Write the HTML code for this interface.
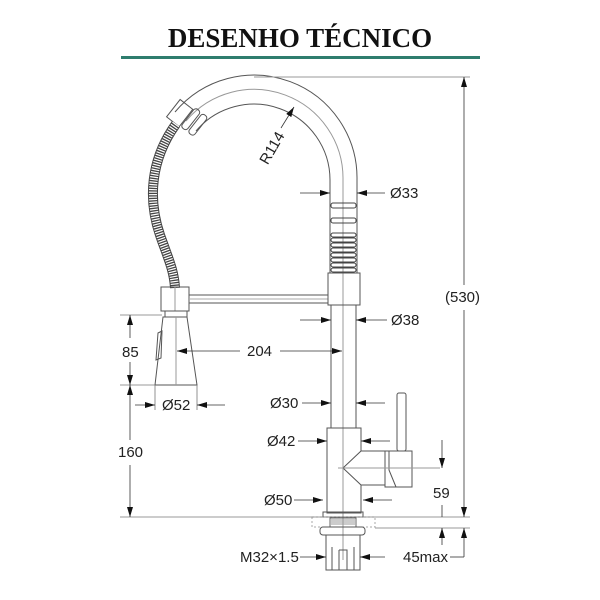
<!DOCTYPE html>
<html><head><meta charset="utf-8"><style>
body{margin:0;background:#fff;width:600px;height:600px;overflow:hidden}
svg{display:block}
text{font-family:"Liberation Sans",Arial,sans-serif;font-size:15px;fill:#222}
</style></head><body>
<svg width="600" height="600" viewBox="0 0 600 600" xmlns="http://www.w3.org/2000/svg">
<defs>
<marker id="a" viewBox="0 0 10 6" refX="10" refY="3" markerWidth="10" markerHeight="6" orient="auto-start-reverse" markerUnits="userSpaceOnUse"><path d="M0,0 L10,3 L0,6z" fill="#111"/></marker>
</defs>
<text x="300" y="47" text-anchor="middle" style="font-family:'Liberation Serif',serif;font-weight:bold;font-size:27px;fill:#111">DESENHO TÉCNICO</text>
<rect x="121" y="56" width="359" height="3" fill="#2e7d6e"/>

<g fill="none" stroke="#555" stroke-width="1">
<path d="M357,180 A103,103 0 0 0 175,112"/>
<path d="M330,180 A76,76 0 0 0 196,131"/>
<path d="M343,180 A89,89 0 0 0 186,121" stroke="#999"/>
<line x1="254" y1="77" x2="470" y2="77" stroke="#999"/>
<line x1="330" y1="180" x2="330" y2="273"/>
<line x1="357" y1="180" x2="357" y2="273"/>
<line x1="343" y1="180" x2="343" y2="560" stroke="#999"/>
<g stroke="#444">
<rect x="331" y="203" width="25" height="5" rx="2"/>
<rect x="331" y="218" width="25" height="5" rx="2"/>
<rect x="331" y="233" width="25" height="4" rx="2"/><rect x="331" y="238" width="25" height="4" rx="2"/>
<rect x="331" y="243" width="25" height="4" rx="2"/><rect x="331" y="248" width="25" height="4" rx="2"/>
<rect x="331" y="253" width="25" height="4" rx="2"/><rect x="331" y="258" width="25" height="4" rx="2"/>
<rect x="331" y="263" width="25" height="4" rx="2"/><rect x="331" y="268" width="25" height="4" rx="2"/>
</g>
<g transform="translate(185,116) rotate(38)">
<rect x="-14" y="-10" width="16" height="22"/>
<rect x="3" y="-13" width="7" height="24" rx="3"/>
<rect x="12" y="-13" width="7" height="24" rx="3"/>
</g>
<path d="M176,124 C150,160 148,200 160,235 C168,258 174,270 175,288" stroke="#444" stroke-width="10"/>
<path d="M176,124 C150,160 148,200 160,235 C168,258 174,270 175,288" stroke="#fff" stroke-width="8" stroke-dasharray="1.2 1.3"/>
<rect x="161" y="287" width="28" height="24"/>
<line x1="175" y1="287" x2="175" y2="311" stroke="#999"/>
<line x1="189" y1="295" x2="328" y2="295"/>
<line x1="189" y1="303" x2="328" y2="303"/>
<line x1="189" y1="299" x2="328" y2="299" stroke="#aaa"/>
<rect x="328" y="273" width="32" height="32"/>
<line x1="331" y1="305" x2="331" y2="428"/>
<line x1="356" y1="305" x2="356" y2="428"/>
<rect x="165" y="311" width="22" height="6"/>
<path d="M163,317 L187,317 L197,385 L155,385 Z"/>
<path d="M158,333 L162,331 L161,358 L156,360 Z"/>
<line x1="176" y1="317" x2="176" y2="385" stroke="#999"/>
<path d="M327,428 L361,428 L361,451 L343,468 L361,485 L361,513 L327,513 Z"/>
<line x1="361" y1="451" x2="385" y2="451"/><line x1="361" y1="485" x2="385" y2="485"/>
<rect x="385" y="451" width="27" height="36"/>
<path d="M389,451 L389,470 L396,487"/>
<rect x="397" y="393" width="9" height="58" rx="2"/>
<line x1="338" y1="468" x2="440" y2="468" stroke="#999"/>
<rect x="323" y="512" width="40" height="5"/>
<rect x="312" y="517" width="63" height="10" stroke="#aaa" stroke-dasharray="2 2"/>
<rect x="330" y="518" width="26" height="9" stroke="#666"/>
<path d="M331,520h24M331,522h24M331,524h24" stroke="#999"/>
<rect x="320" y="527" width="45" height="8" rx="3"/>
<rect x="326" y="535" width="34" height="35"/>
<path d="M332,547 v23 M354,547 v23 M339,550 h8 v20 M339,550 v20"/>
</g>

<g stroke="#777" stroke-width="0.8" fill="none">
<line x1="120" y1="517" x2="470" y2="517"/>
<line x1="375" y1="528" x2="470" y2="528"/>
<line x1="120" y1="315" x2="162" y2="315"/>
<line x1="120" y1="385" x2="155" y2="385"/>
<line x1="155" y1="385" x2="155" y2="410"/><line x1="197" y1="385" x2="197" y2="410"/>
</g>
<g stroke="#333" stroke-width="0.8" fill="none">
<line x1="130" y1="338" x2="130" y2="315" marker-end="url(#a)"/>
<line x1="130" y1="362" x2="130" y2="385" marker-end="url(#a)"/>
<line x1="130" y1="385" x2="130" y2="440" marker-start="url(#a)"/>
<line x1="130" y1="465" x2="130" y2="517" marker-end="url(#a)"/>
<line x1="240" y1="351" x2="177" y2="351" marker-end="url(#a)"/>
<line x1="280" y1="351" x2="342" y2="351" marker-end="url(#a)"/>
<line x1="135" y1="405" x2="155" y2="405" marker-end="url(#a)"/>
<line x1="225" y1="405" x2="197" y2="405" marker-end="url(#a)"/>
<line x1="300" y1="193" x2="330" y2="193" marker-end="url(#a)"/>
<line x1="385" y1="193" x2="357" y2="193" marker-end="url(#a)"/>
<line x1="300" y1="320" x2="331" y2="320" marker-end="url(#a)"/>
<line x1="387" y1="320" x2="356" y2="320" marker-end="url(#a)"/>
<line x1="302" y1="403" x2="331" y2="403" marker-end="url(#a)"/>
<line x1="385" y1="403" x2="356" y2="403" marker-end="url(#a)"/>
<line x1="298" y1="441" x2="327" y2="441" marker-end="url(#a)"/>
<line x1="390" y1="441" x2="361" y2="441" marker-end="url(#a)"/>
<line x1="294" y1="500" x2="323" y2="500" marker-end="url(#a)"/>
<line x1="392" y1="500" x2="363" y2="500" marker-end="url(#a)"/>
<line x1="300" y1="557" x2="326" y2="557" marker-end="url(#a)"/>
<line x1="385" y1="557" x2="360" y2="557" marker-end="url(#a)"/>
<line x1="442" y1="440" x2="442" y2="468" marker-end="url(#a)"/>
<line x1="442" y1="505" x2="442" y2="517" />
<line x1="442" y1="545" x2="442" y2="528" marker-end="url(#a)"/>
<line x1="464" y1="285" x2="464" y2="77" marker-end="url(#a)"/>
<line x1="464" y1="310" x2="464" y2="517" marker-end="url(#a)"/>
<line x1="464" y1="557" x2="464" y2="528" marker-end="url(#a)"/>
<line x1="450" y1="557" x2="464" y2="557"/>
<line x1="281" y1="128" x2="294" y2="107" marker-end="url(#a)"/>
</g>
<text x="272" y="153" text-anchor="middle" transform="rotate(-60 272 148)" style="font-size:15px">R114</text>
<text x="390" y="198">Ø33</text>
<text x="391" y="325">Ø38</text>
<text x="122" y="357">85</text>
<text x="247" y="356">204</text>
<text x="162" y="410">Ø52</text>
<text x="270" y="408">Ø30</text>
<text x="267" y="446">Ø42</text>
<text x="118" y="457">160</text>
<text x="264" y="505">Ø50</text>
<text x="433" y="498">59</text>
<text x="240" y="562">M32×1.5</text>
<text x="403" y="562">45max</text>
<text x="445" y="302">(530)</text>
</svg>
</body></html>
